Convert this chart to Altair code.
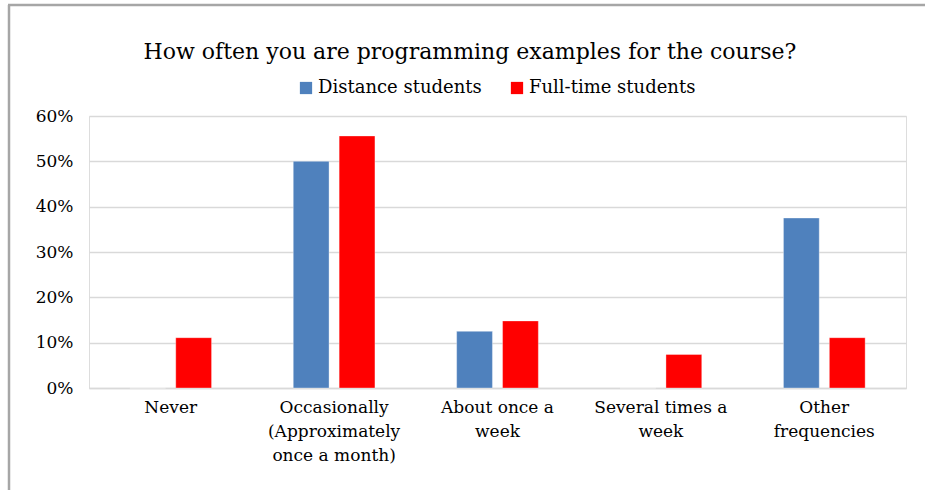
import altair as alt
import pandas as pd

categories = ["Never", "Occasionally\n(Approximately\nonce a month)", "About once a\nweek",
              "Several times a\nweek", "Other\nfrequencies"]
distance = [0.0, 0.50, 0.125, 0.0, 0.375]
fulltime = [0.111, 0.556, 0.148, 0.074, 0.111]
series = ["Distance students", "Full-time students"]
colors = ["#4F81BD", "#FF0000"]
title_text = "How often you are programming examples for the course?"

rows = []
for c, d, f in zip(categories, distance, fulltime):
    rows.append({"cat": c, "series": series[0], "value": d})
    rows.append({"cat": c, "series": series[1], "value": f})
df = pd.DataFrame(rows)

FONT = "DejaVu Serif"

bars = alt.Chart(df).mark_bar(strokeWidth=1, strokeOpacity=0.35, stroke="white").encode(
    x=alt.X("cat:N", sort=categories, title=None,
            scale=alt.Scale(paddingInner=0.5, paddingOuter=0.25),
            axis=alt.Axis(labelExpr="split(datum.label, '\\n')", labelAngle=0,
                          labelFont=FONT, labelFontSize=17, labelColor="black",
                          labelLineHeight=24, labelPadding=11, labelBaseline="top",
                          ticks=False, domainColor="#d9d9d9", domainWidth=1.5)),
    xOffset=alt.XOffset("series:N", sort=series,
                        scale=alt.Scale(paddingInner=0.22, paddingOuter=0)),
    y=alt.Y("value:Q", title=None,
            scale=alt.Scale(domain=[0, 0.6], nice=False),
            axis=alt.Axis(format=".0%", values=[0, 0.1, 0.2, 0.3, 0.4, 0.5, 0.6],
                          labelFont=FONT, labelFontSize=17, labelColor="black",
                          labelPadding=16, ticks=False, domain=False,
                          gridColor="#d9d9d9", gridWidth=1.5)),
    color=alt.Color("series:N", sort=series,
                    scale=alt.Scale(domain=series, range=colors),
                    legend=alt.Legend(title=None, orient="none", direction="horizontal",
                                      legendX=208, legendY=-37,
                                      symbolType="square", symbolSize=150,
                                      symbolStrokeWidth=0,
                                      labelFont=FONT, labelFontSize=18,
                                      labelColor="black", labelLimit=400,
                                      columnPadding=26, labelOffset=3)),
)

title = alt.Chart(pd.DataFrame({"t": [title_text]})).mark_text(
    font=FONT, fontSize=22, color="black", align="center", baseline="alphabetic"
).encode(text="t:N", x=alt.value(381), y=alt.value(-57))

top_border = alt.Chart(pd.DataFrame({"a": [0]})).mark_rule(color="#a6a6a6", strokeWidth=2.5).encode(
    x=alt.value(-81), x2=alt.value(840), y=alt.value(-111))
left_border = alt.Chart(pd.DataFrame({"a": [0]})).mark_rule(color="#a6a6a6", strokeWidth=2.5).encode(
    x=alt.value(-80), y=alt.value(-111), y2=alt.value(380))

chart = alt.layer(bars, title, top_border, left_border).properties(
    width=817, height=272,
    autosize=alt.AutoSizeParams(type="none"),
    padding={"left": 89, "top": 116, "right": 19, "bottom": 102},
).configure_view(stroke=None).configure(background="white")

chart.save("out.html", embed_options={"renderer": "svg", "actions": False})
